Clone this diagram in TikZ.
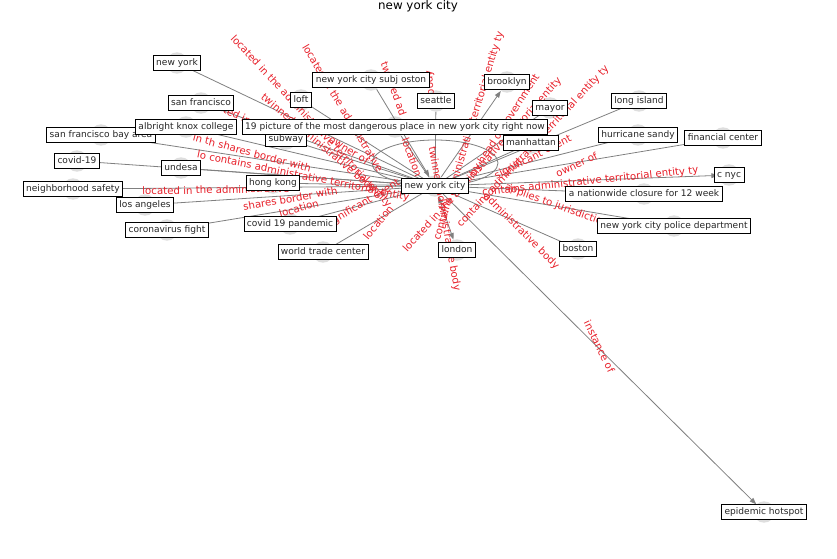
\documentclass[tikz,border=0pt]{standalone}
\usepackage{fontspec}
\setmainfont{DejaVu Sans}
\usetikzlibrary{arrows.meta,calc}
\definecolor{lblred}{RGB}{232,32,42}
\definecolor{edgegray}{RGB}{128,128,128}
\definecolor{dotgray}{RGB}{222,222,222}
\begin{document}
\begin{tikzpicture}[x=0.75pt,y=-0.75pt,
  dot/.style={circle,fill=dotgray,draw=none,minimum size=16pt,inner sep=0pt},
  box/.style={draw=black,fill=white,line width=0.6pt,font=\fontsize{6.8}{7.5}\selectfont,text=black!85,inner xsep=2.2pt,inner ysep=2.4pt,text height=5.2pt,text depth=1.6pt},
  lbl/.style={text=lblred,font=\fontsize{7.65}{8}\selectfont,inner sep=0pt,anchor=west},
  edge/.style={draw=edgegray,line width=0.6pt},
  arr/.style={edge,-{Triangle[length=5pt,width=3.6pt]}},
  biarr/.style={edge,{Triangle[length=5pt,width=3.6pt]}-{Triangle[length=5pt,width=3.6pt]}}]
\fill[white] (0,0) rectangle (837,559);
\useasboundingbox (0,0) rectangle (837,559);
% node markers
\node[dot] (nyc) at (435,186) {};
\node[dot] (ny) at (177,63) {};
\node[dot] (sf) at (201,103) {};
\node[dot] (loft) at (301,100) {};
\node[dot] (subj) at (371,80) {};
\node[dot] (sea) at (436,101) {};
\node[dot] (bro) at (507,82) {};
\node[dot] (mayor) at (550,108) {};
\node[dot] (li) at (639,101) {};
\node[dot] (akc) at (186,127) {};
\node[dot] (pic) at (395,127) {};
\node[dot] (sfba) at (101,135) {};
\node[dot] (sub) at (286,139) {};
\node[dot] (man) at (531,143) {};
\node[dot] (hs) at (638,135) {};
\node[dot] (fc) at (723,138) {};
\node[dot] (cov) at (77,161) {};
\node[dot] (und) at (181,168) {};
\node[dot] (hk) at (273,183) {};
\node[dot] (ns) at (73,189) {};
\node[dot] (cnyc) at (729,175) {};
\node[dot] (nwc) at (644,194) {};
\node[dot] (la) at (145,205) {};
\node[dot] (cf) at (167,230) {};
\node[dot] (cp) at (290,224) {};
\node[dot] (pd) at (674,226) {};
\node[dot] (wtc) at (323,252) {};
\node[dot] (lon) at (457,250) {};
\node[dot] (bos) at (578,249) {};
\node[dot] (eh) at (764,512) {};
% edges
\foreach \n in {ny,sf,loft,sea,mayor,li,akc,pic,sfba,sub,man,hs,fc,cov,und,hk,ns,nwc,la,cf,cp,pd,wtc,bos}
  \draw[edge] (\n) -- (nyc);
\draw[arr] (subj) -- (nyc);
\draw[arr] (nyc) -- (bro);
\draw[arr] (nyc) -- (cnyc);
\draw[biarr] (nyc) -- (lon);
\draw[arr] (nyc) -- (eh);
\draw[edge] (nyc.center) arc[start angle=90,end angle=450,x radius=63,y radius=23];
% edge labels
\node[lbl,rotate=-47] at (232,37) {located in the administrative territorial entity};
\node[lbl,rotate=-59] at (305,45) {located in the administrative};
\node[lbl,rotate=-70] at (384,62) {twinned ad};
\node[lbl,rotate=-70] at (405,138) {location};
\node[lbl,rotate=-40] at (262,96) {twinned administrative body};
\node[lbl,rotate=-25] at (205,100) {located in};
\node[lbl,rotate=-15] at (193,137) {in th shares border with};
\node[lbl,rotate=-11.5] at (197,155) {lo contains administrative territorial entity};
\node[lbl,rotate=1] at (142,191) {located in the administrative};
\node[lbl,rotate=10] at (243,207) {shares border with};
\node[lbl,rotate=16] at (279,214) {location};
\node[lbl,rotate=31] at (326,226) {significant event};
\node[lbl,rotate=50] at (365,238) {location};
\node[lbl,rotate=-32] at (330,138) {owner of};
\node[lbl,rotate=48] at (405,251) {located in the administrative territorial entity};
\node[lbl,rotate=73] at (437,240) {contains administrative territorial entity ty};
\node[lbl,rotate=47] at (459,226) {contains administrative territorial entity ty};
\node[lbl,rotate=-80,anchor=east] at (457,291) {twinned administrative body};
\node[lbl,rotate=95,anchor=east] at (429,70) {body};
\node[lbl,rotate=57] at (472,176) {by head of government};
\node[lbl,rotate=27] at (495,177) {significant event};
\node[lbl,rotate=25] at (556,174) {owner of};
\node[lbl,rotate=6] at (482,193) {contains administrative territorial entity ty};
\node[lbl,rotate=-20] at (505,187) {applies to jurisdiction};
\node[lbl,rotate=-45] at (485,195) {administrative body};
\node[lbl,rotate=-64] at (587,321) {instance of};
% node boxes
\node[box] (nycb) at (nyc) {new york city};
\node[box] (nyb) at (ny) {new york};
\node[box] (sfb) at (sf) {san francisco};
\node[box] (loftb) at (loft) {loft};
\node[box] (subjb) at (subj) {new york city subj oston};
\node[box] (seab) at (sea) {seattle};
\node[box] (brob) at (bro) {brooklyn};
\node[box] (mayorb) at (mayor) {mayor};
\node[box] (lib) at (li) {long island};
\node[box] (sfbab) at (sfba) {san francisco bay area};
\node[box] (akcb) at (akc) {albright knox college};
\node[box] (subb) at (sub) {subway};
\node[box] (picb) at (pic) {19 picture of the most dangerous place in new york city right now};
\node[box] (manb) at (man) {manhattan};
\node[box] (hsb) at (hs) {hurricane sandy};
\node[box] (fcb) at (fc) {financial center};
\node[box] (covb) at (cov) {covid-19};
\node[box] (undb) at (und) {undesa};
\node[box] (nsb) at (ns) {neighborhood safety};
\node[box] (hkb) at (hk) {hong kong};
\node[box] (cnycb) at (cnyc) {c nyc};
\node[box] (nwcb) at (nwc) {a nationwide closure for 12 week};
\node[box] (lab) at (la) {los angeles};
\node[box] (cfb) at (cf) {coronavirus fight};
\node[box] (cpb) at (cp) {covid 19 pandemic};
\node[box] (pdb) at (pd) {new york city police department};
\node[box] (wtcb) at (wtc) {world trade center};
\node[box] (lonb) at (lon) {london};
\node[box] (bosb) at (bos) {boston};
\node[box] (ehb) at (eh) {epidemic hotspot};
\node[font=\fontsize{8.9}{10}\selectfont,inner sep=0pt] (title) at (418,6) {new york city};
\end{tikzpicture}
\end{document}
